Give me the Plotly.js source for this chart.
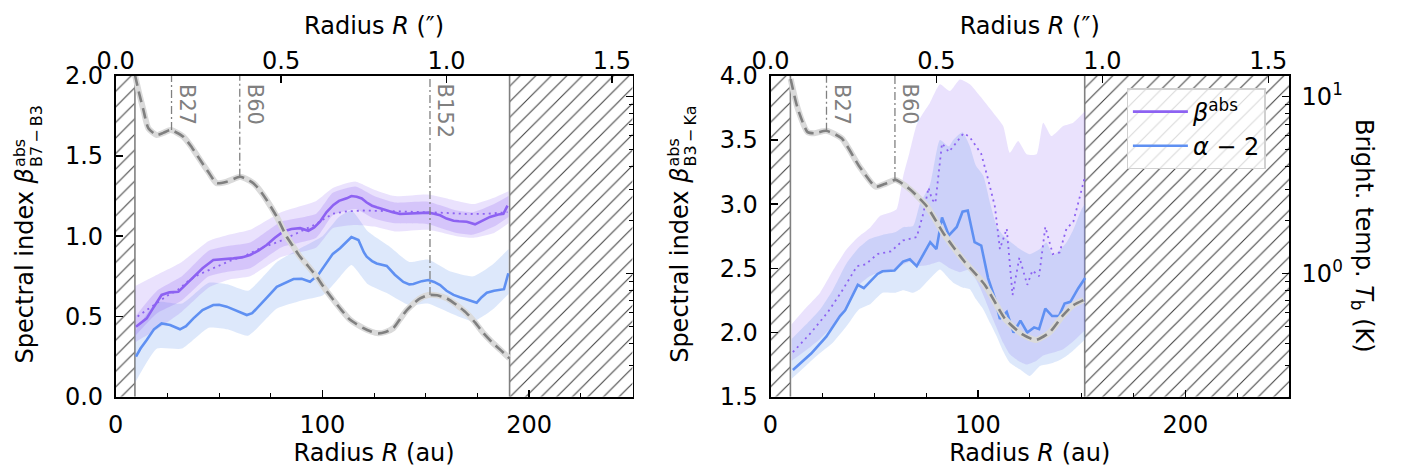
<!DOCTYPE html>
<html><head><meta charset="utf-8">
<script src="https://cdn.plot.ly/plotly-3.0.1.min.js"></script>
<style>html,body{margin:0;padding:0;background:#fff}#chart{width:1405px;height:471px}</style>
</head><body><div id="chart"></div>
<script>
// ================= DATA =================
const auPerArcsec = 160;            // distance scale for the top axis
const xRangeAu = [0, 250];
const yRangeL = [0, 2];
const yRangeR = [1.5, 4];
const tbRange = [0.2, 13.15];       // brightness-temperature axis (K)

// --- Left panel: B7-B3 ---
const rBetaL = [9.8,12,15,18,22.2,26,30.3,34,37.6,42,47.2,52,56.9,61,65,69,73,77,81.1,85,89.2,93.2,96,98.8,102,105.3,108,111.7,114,116.6,119,121.4,124,126.2,128.5,131.1,134,137.5,140,144,147,151.2,154,156.9,160,163.4,166,169.8,173.8,177.9,181,185.1,187.5,189.5];
const betaL  = [0.436,0.46,0.488,0.55,0.634,0.65,0.654,0.70,0.748,0.80,0.852,0.855,0.862,0.868,0.883,0.91,0.945,0.99,1.03,1.045,1.05,1.034,1.055,1.09,1.15,1.195,1.22,1.236,1.25,1.246,1.235,1.21,1.19,1.18,1.17,1.163,1.15,1.138,1.14,1.145,1.148,1.147,1.14,1.13,1.11,1.096,1.093,1.09,1.074,1.10,1.12,1.135,1.14,1.19];

const rDotL = [10.6,15,20,25,30,35,40,47,55,62,70,79,88,96,105,112,120,130,140,150,160,170,180,189.5];
const dotL  = [0.50,0.54,0.59,0.63,0.665,0.72,0.76,0.80,0.845,0.875,0.925,0.966,1.02,1.07,1.14,1.155,1.16,1.158,1.155,1.15,1.145,1.138,1.14,1.15];

const rBandL   = [9.5,20,32,45,55,65,80,97,105,116,125,135,151,165,173,183,190];
const outerUpL = [0.69,0.76,0.84,0.97,1.01,1.04,1.15,1.22,1.30,1.34,1.29,1.25,1.26,1.22,1.20,1.24,1.28];
const outerLoL = [0.34,0.42,0.53,0.68,0.73,0.75,0.87,0.93,1.05,1.07,1.06,1.03,1.04,1.00,0.99,1.02,1.08];
const innerUpL = [0.50,0.66,0.75,0.91,0.94,0.96,1.09,1.14,1.27,1.31,1.25,1.21,1.215,1.16,1.15,1.20,1.25];
const innerLoL = [0.38,0.52,0.60,0.75,0.78,0.80,0.93,0.99,1.13,1.17,1.11,1.08,1.075,1.02,1.01,1.06,1.12];

const rAlphaL = [9.8,12,15,18.5,22.2,26.3,31.1,34,37.6,42,47.2,50,53.7,58,63.4,66,69.9,74,77.9,82,86,90,94,98,102.1,105,108.5,111.5,114,117.4,120,121.4,124,126.2,128.5,131.1,135,139.1,142,144,148,151.2,154,156.9,160,163.4,166.5,169.8,172,174.6,177,179.5,183,185.9,187.8,189.9];
const alphaL  = [0.249,0.30,0.353,0.42,0.457,0.447,0.42,0.44,0.488,0.54,0.571,0.573,0.561,0.54,0.509,0.52,0.571,0.63,0.685,0.71,0.733,0.735,0.716,0.76,0.84,0.89,0.925,0.96,0.995,0.976,0.90,0.872,0.845,0.83,0.825,0.815,0.76,0.715,0.70,0.702,0.72,0.727,0.715,0.696,0.66,0.634,0.62,0.607,0.60,0.586,0.62,0.648,0.66,0.665,0.67,0.769];

const rBandAL = [9.5,20,32,45,54,64,78,90,100,108,114,122,132,142,151,162,173,182,190];
const upAL    = [0.41,0.59,0.58,0.71,0.70,0.66,0.84,0.93,1.0,1.12,1.16,1.03,0.94,0.84,0.855,0.78,0.75,0.82,0.92];
const loAL    = [0.09,0.30,0.30,0.43,0.42,0.38,0.55,0.60,0.63,0.74,0.82,0.70,0.64,0.57,0.58,0.52,0.47,0.54,0.64];

const rTbL = [9.3,11.4,13.4,15.8,19.8,23,26.6,32.7,37,40.8,45,48.8,53.7,60.1,63,66.6,70,73,77.9,82.7,86,89.2,93,97.2,101,105.3,109.3,113.4,119.8,123.5,127,130.5,134.3,137.5,140.8,144,147.2,151.2,155.5,160.1,165,169.8,173.9,177.9,182,186.2,190.4];
const TbL  = [13.3,10.4,8.41,6.62,6.07,6.24,6.47,5.94,5.13,4.39,3.72,3.24,3.30,3.52,3.43,3.24,2.92,2.60,2.09,1.61,1.41,1.24,1.10,0.957,0.822,0.706,0.617,0.545,0.489,0.468,0.457,0.465,0.489,0.55,0.619,0.673,0.721,0.753,0.75,0.721,0.66,0.593,0.525,0.457,0.407,0.367,0.330];

const ringsL   = [27, 60, 152];
const ringTbL  = [6.47, 3.52, 0.753];
const maskL    = [[0, 9.3], [190.5, 250]];

// --- Right panel: B3-Ka ---
const rAlphaR = [10.8,19.6,26.9,33.5,36,42.1,45,51.6,54,59.8,63.9,67.2,70.5,77,80,82.7,86,89.8,92.6,95.1,98.4,101.6,104.9,108.2,110.6,113.9,117.2,120.5,123.8,127.1,129.5,132.5,135.8,139.1,141.8,144.6,148.4,151.7];
const alphaR  = [1.708,1.836,1.968,2.128,2.173,2.371,2.345,2.456,2.477,2.483,2.552,2.57,2.517,2.703,2.65,2.896,2.756,2.822,2.941,2.95,2.703,2.677,2.424,2.266,2.106,2.16,2.0,2.093,2.0,2.04,2.026,2.186,2.128,2.128,2.226,2.239,2.345,2.424];

const rDotR = [10.8,19.6,27.7,34.3,41.7,45.8,51.6,58.1,63.9,70.5,73.7,76.2,77.9,79.5,82.7,86,89.3,93.1,95.9,101.6,104.9,108.2,110.6,113.9,116.7,120,123.8,126.3,129.5,132.5,136.1,139.4,142.7,146,149.2,151.7];
const dotR  = [1.847,2.0,2.16,2.319,2.517,2.53,2.611,2.632,2.717,2.743,2.928,3.128,3.035,3.009,3.473,3.406,3.473,3.552,3.526,3.392,3.194,2.981,2.65,2.809,2.292,2.584,2.371,2.483,2.438,2.822,2.611,2.624,2.809,2.862,3.061,3.22];

const rPR  = [10.2,17,23.9,30,36.7,42,48,52.8,57,60.8,64,67,70.5,73.6,76.9,81.7,86.5,91.3,96.1,101,107.4,112.2,115.4,119.4,123.5,128.3,131.5,135.5,141.1,145.9,151.7];
const upPR = [2.064,2.19,2.31,2.48,2.648,2.74,2.816,2.907,2.93,2.96,3.219,3.40,3.62,3.71,3.79,3.933,3.88,3.97,3.933,3.842,3.712,3.608,3.40,3.491,3.388,3.388,3.634,3.53,3.608,3.634,3.725];
const loPR = [1.78,1.86,1.95,2.05,2.20,2.36,2.44,2.47,2.48,2.50,2.53,2.55,2.52,2.52,2.53,2.55,2.50,2.47,2.49,2.35,2.10,1.92,1.83,1.78,1.75,1.78,1.82,1.84,1.87,1.93,2.02];

const rBR  = [10.2,17,23.9,30,36.7,42.6,48,54,60,64,68.8,72,76.9,81.7,86,88.1,92.6,96.1,99,102.6,106,109,112,115.4,120.2,125,129.9,133,136.3,140,142.7,146,150,151.7];
const upBR = [1.95,2.06,2.18,2.33,2.54,2.66,2.73,2.76,2.78,2.82,2.83,3.0,3.15,3.50,3.45,3.50,3.56,3.45,3.30,3.22,3.0,2.83,2.76,2.71,2.65,2.61,2.65,2.70,2.60,2.65,2.70,2.80,2.96,3.0];
const loBR = [1.64,1.74,1.84,1.92,2.05,2.18,2.22,2.31,2.31,2.33,2.31,2.336,2.42,2.49,2.42,2.388,2.35,2.336,2.26,2.18,2.07,1.973,1.86,1.765,1.713,1.661,1.739,1.75,1.765,1.79,1.817,1.86,1.92,1.95];

const rTbR = [9.7,13,17.9,21.2,26.9,34.3,42.6,50.7,55,60.3,67.2,75.4,83.6,93.4,103.3,113.1,121.3,127.9,134.5,141,145.9,150.9];
const TbR  = [12.6,8.67,6.30,6.21,6.41,5.81,4.07,3.09,3.20,3.38,2.99,2.39,1.67,1.17,0.861,0.552,0.452,0.419,0.462,0.577,0.659,0.705];

const ringsR  = [27, 60];
const ringTbR = [6.41, 3.38];
const maskR   = [[0, 9.6], [151.5, 250]];

const topTicks = [0, 0.5, 1.0, 1.5];
const topTickText = ['0.0', '0.5', '1.0', '1.5'];
const bandSubL = 'B7\u2009−\u2009B3';
const bandSubR = 'B3\u2009−\u2009Ka';

// ================= STYLE =================
const W = 1405, H = 471;
const FONT = 'DejaVu Sans';
const PURPLE = '#8d62f2', BLUE = '#5f90f2', GRAY = '#808080';
const fillPurpleOuter = 'rgba(150,110,245,0.20)';
const fillPurpleInner = 'rgba(140,95,240,0.22)';
const fillBlue = 'rgba(100,149,237,0.22)';
const plotTop = 75.7, plotBot = 396.7;
const plotLeftL = 115.7, plotLeftR = 770.5;
const domL = [plotLeftL / W, 632.6 / W];
const domR = [plotLeftR / W, 1289 / W];
const domY = [(H - plotBot) / H, (H - plotTop) / H];

const traces = [];
function band(xs, lo, hi, color, xa, ya) {
  traces.push({x: xs, y: lo, xaxis: xa, yaxis: ya, mode: 'lines', line: {width: 0, shape: 'spline', smoothing: 0.5},
               showlegend: false, hoverinfo: 'skip'});
  traces.push({x: xs, y: hi, xaxis: xa, yaxis: ya, mode: 'lines', line: {width: 0, shape: 'spline', smoothing: 0.5},
               fill: 'tonexty', fillcolor: color, showlegend: false, hoverinfo: 'skip'});
}
function hatch(mask, yr, xa, ya) {
  mask.forEach(m => {
    traces.push({x: [m[0], m[1], m[1], m[0], m[0]], y: [yr[0], yr[0], yr[1], yr[1], yr[0]], xaxis: xa, yaxis: ya,
      mode: 'lines', line: {width: 0}, fill: 'toself', fillcolor: 'white',
      fillpattern: {shape: '/', fgcolor: '#444', bgcolor: 'white', size: 11, solidity: 0.1},
      showlegend: false, hoverinfo: 'skip'});
  });
  traces.push({x: [mask[0][1], mask[0][1]], y: yr, xaxis: xa, yaxis: ya, mode: 'lines',
               line: {color: GRAY, width: 1.6}, showlegend: false, hoverinfo: 'skip'});
  traces.push({x: [mask[1][0], mask[1][0]], y: yr, xaxis: xa, yaxis: ya, mode: 'lines',
               line: {color: GRAY, width: 1.6}, showlegend: false, hoverinfo: 'skip'});
}
function tbCurve(xs, ys, rings, ringTb, xa, ya) {
  traces.push({x: xs, y: ys, xaxis: xa, yaxis: ya, mode: 'lines', line: {color: '#dadada', width: 6, shape: 'spline', smoothing: 0.6},
               showlegend: false, hoverinfo: 'skip'});
  traces.push({x: xs, y: ys, xaxis: xa, yaxis: ya, mode: 'lines', line: {color: GRAY, width: 2.6, dash: '11px,6px', shape: 'spline', smoothing: 0.6},
               showlegend: false, hoverinfo: 'skip'});
  rings.forEach((r, i) => {
    traces.push({x: [r, r], y: [ringTb[i], tbRange[1] * 1.5], xaxis: xa, yaxis: ya, mode: 'lines',
                 line: {color: GRAY, width: 1.3, dash: '8px,3px,2px,3px'}, showlegend: false, hoverinfo: 'skip'});
  });
}

// ---- Left panel ----
hatch(maskL, yRangeL, 'x', 'y');
band(rBandAL, loAL, upAL, fillBlue, 'x', 'y');
band(rBandL, outerLoL, outerUpL, fillPurpleOuter, 'x', 'y');
band(rBandL, innerLoL, innerUpL, fillPurpleInner, 'x', 'y');
traces.push({x: rDotL, y: dotL, xaxis: 'x', yaxis: 'y', mode: 'lines', line: {color: PURPLE, width: 1.8, dash: '2px,4px'},
             showlegend: false, hoverinfo: 'skip'});
traces.push({x: rBetaL, y: betaL, xaxis: 'x', yaxis: 'y', mode: 'lines', line: {color: PURPLE, width: 2.6},
             name: '<i>β</i><sup>abs</sup>', showlegend: true});
traces.push({x: rAlphaL, y: alphaL, xaxis: 'x', yaxis: 'y', mode: 'lines', line: {color: BLUE, width: 2.6},
             name: '<i>α</i> − 2', showlegend: true});
tbCurve(rTbL, TbL, ringsL, ringTbL, 'x', 'y3');
traces.push({x: [null], y: [null], xaxis: 'x3', yaxis: 'y', mode: 'markers', showlegend: false, hoverinfo: 'skip'});

// ---- Right panel ----
hatch(maskR, yRangeR, 'x2', 'y2');
band(rPR, loPR, upPR, fillPurpleOuter, 'x2', 'y2');
band(rBR, loBR, upBR, fillBlue, 'x2', 'y2');
traces.push({x: rDotR, y: dotR, xaxis: 'x2', yaxis: 'y2', mode: 'lines', line: {color: PURPLE, width: 1.8, dash: '2px,4px'},
             showlegend: false, hoverinfo: 'skip'});
traces.push({x: rAlphaR, y: alphaR, xaxis: 'x2', yaxis: 'y2', mode: 'lines', line: {color: BLUE, width: 2.6},
             showlegend: false, hoverinfo: 'skip'});
tbCurve(rTbR, TbR, ringsR, ringTbR, 'x2', 'y4');
traces.push({x: [null], y: [null], xaxis: 'x4', yaxis: 'y2', mode: 'markers', showlegend: false, hoverinfo: 'skip'});

// ================= AXES =================
const base = {ticks: 'inside', ticklen: 7, tickwidth: 1.5, tickcolor: 'black', showline: true, linecolor: 'black',
              linewidth: 1.8, showgrid: false, zeroline: false, tickfont: {size: 24, color: 'black', family: FONT},
              ticklabelstandoff: 6};
const minorLog = {tickvals: [0.2,0.3,0.4,0.5,0.6,0.7,0.8,0.9,2,3,4,5,6,7,8,9], ticks: 'inside', ticklen: 4, tickwidth: 1, tickcolor: 'black'};
const logRange = [Math.log10(tbRange[0]), Math.log10(tbRange[1])];
const topRange = [xRangeAu[0] / auPerArcsec, xRangeAu[1] / auPerArcsec];
const minorAu = {tickvals: [25, 50, 75, 125, 150, 175, 225], ticks: 'inside', ticklen: 4, tickwidth: 1, tickcolor: 'black'};
const titleFont = {size: 24, color: 'black', family: FONT};

const layout = {
  width: W, height: H, margin: {l: 0, r: 0, t: 0, b: 0},
  paper_bgcolor: 'white', plot_bgcolor: 'rgba(0,0,0,0)',
  font: {family: FONT, size: 24, color: 'black'},
  showlegend: true,
  legend: {x: 1126.7 / W, y: (H - 88.3) / H, xanchor: 'left', yanchor: 'top', bgcolor: 'rgba(255,255,255,0.8)',
           bordercolor: '#d0d0d0', borderwidth: 1.2, font: {size: 24, family: FONT}, itemwidth: 55,
           traceorder: 'normal', tracegroupgap: 0},
  xaxis:  Object.assign({}, base, {domain: domL, anchor: 'y', range: xRangeAu, tickvals: [0, 100, 200], minor: minorAu,
           title: {text: 'Radius <i>R</i> (au)', font: titleFont, standoff: 6}}),
  xaxis3: Object.assign({}, base, {overlaying: 'x', side: 'top', anchor: 'y', range: topRange, tickvals: topTicks, ticktext: topTickText,
           ticklabelstandoff: -5, title: {text: 'Radius <i>R</i> (″)', font: titleFont, standoff: 6}}),
  yaxis:  Object.assign({}, base, {domain: domY, anchor: 'x', range: yRangeL, tickvals: [0, 0.5, 1, 1.5, 2], tickformat: '.1f'}),
  yaxis3: Object.assign({}, base, {overlaying: 'y', side: 'right', anchor: 'x', type: 'log', range: logRange,
           tickvals: [1, 10], showticklabels: false, minor: minorLog}),
  xaxis2: Object.assign({}, base, {domain: domR, anchor: 'y2', range: xRangeAu, tickvals: [0, 100, 200], minor: minorAu,
           title: {text: 'Radius <i>R</i> (au)', font: titleFont, standoff: 6}}),
  xaxis4: Object.assign({}, base, {overlaying: 'x2', side: 'top', anchor: 'y2', range: topRange, tickvals: topTicks, ticktext: topTickText,
           ticklabelstandoff: -5, title: {text: 'Radius <i>R</i> (″)', font: titleFont, standoff: 6}}),
  yaxis2: Object.assign({}, base, {domain: domY, anchor: 'x2', range: yRangeR, tickvals: [1.5, 2, 2.5, 3, 3.5, 4], tickformat: '.1f'}),
  yaxis4: Object.assign({}, base, {overlaying: 'y2', side: 'right', anchor: 'x2', type: 'log', range: logRange,
           tickvals: [1, 10], ticktext: ['10<sup>0</sup>', '10<sup>1</sup>'], minor: minorLog}),
  annotations: [],
};

// ring labels
function ringLabels(rings, xa) {
  rings.forEach(r => layout.annotations.push({x: r, xref: xa, y: (H - 82) / H, yref: 'paper', text: 'B' + r,
    textangle: 90, showarrow: false, xanchor: 'left', yanchor: 'top', xshift: 1,
    font: {size: 21, color: GRAY, family: FONT}}));
}
ringLabels(ringsL, 'x');
ringLabels(ringsR, 'x2');

// y-axis titles with stacked super/subscript (matplotlib style)
const titleIdx = [];
function yTitle(plotLeft, sub) {
  const off = plotLeft - plotLeftL;
  titleIdx.push(layout.annotations.length);
  layout.annotations.push({x: (25 + off) / W, xref: 'paper', y: (H - 369) / H, yref: 'paper',
    text: 'Spectral index <i>β</i>', textangle: -90, showarrow: false, xanchor: 'center', yanchor: 'bottom', font: titleFont});
  layout.annotations.push({x: (19 + off) / W, xref: 'paper', y: (H - 165) / H, yref: 'paper',
    text: 'abs', textangle: -90, showarrow: false, xanchor: 'center', yanchor: 'bottom',
    font: {size: 16, color: 'black', family: FONT}});
  layout.annotations.push({x: (36 + off) / W, xref: 'paper', y: (H - 165) / H, yref: 'paper',
    text: sub, textangle: -90, showarrow: false, xanchor: 'center', yanchor: 'bottom',
    font: {size: 16, color: 'black', family: FONT}});
}
yTitle(plotLeftL, bandSubL);
yTitle(plotLeftR, bandSubR);

// right-hand Tb axis title (reads top to bottom)
layout.annotations.push({x: 1363 / W, xref: 'paper', y: (H - 236) / H, yref: 'paper', text: 'Bright. temp. <i>T</i><sub>b</sub> (K)',
  textangle: 90, showarrow: false, xanchor: 'center', yanchor: 'middle', font: titleFont});

Plotly.newPlot('chart', traces, layout, {staticPlot: true, displayModeBar: false}).then(gd => {
  // stack the super/subscript right after the measured end of "Spectral index β", centred on the plot
  const box = k => {
    const el = gd.querySelector('.annotation[data-index="' + k + '"] text');
    return el ? el.getBoundingClientRect() : null;
  };
  const upd = {};
  const centre = (plotTop + plotBot) / 2 - 2;
  titleIdx.forEach(i0 => {
    const m = box(i0), s = box(i0 + 1), b = box(i0 + 2);
    if (!m || !s || !b) return;
    const Lm = m.height, Ls = Math.max(s.height, b.height), gap = 1;
    const total = Lm + gap + Ls;
    const mainBottom = centre + total / 2;
    const mainTop = mainBottom - Lm;
    const dM = mainBottom - m.bottom;
    upd['annotations[' + i0 + '].y'] = layout.annotations[i0].y - dM / H;
    const dS = (mainTop - gap) - s.bottom;
    upd['annotations[' + (i0 + 1) + '].y'] = layout.annotations[i0 + 1].y - dS / H;
    const dB = (mainTop - gap) - b.bottom;
    upd['annotations[' + (i0 + 2) + '].y'] = layout.annotations[i0 + 2].y - dB / H;
  });
  if (Object.keys(upd).length) return Plotly.relayout(gd, upd);
});
</script>
</body></html>
